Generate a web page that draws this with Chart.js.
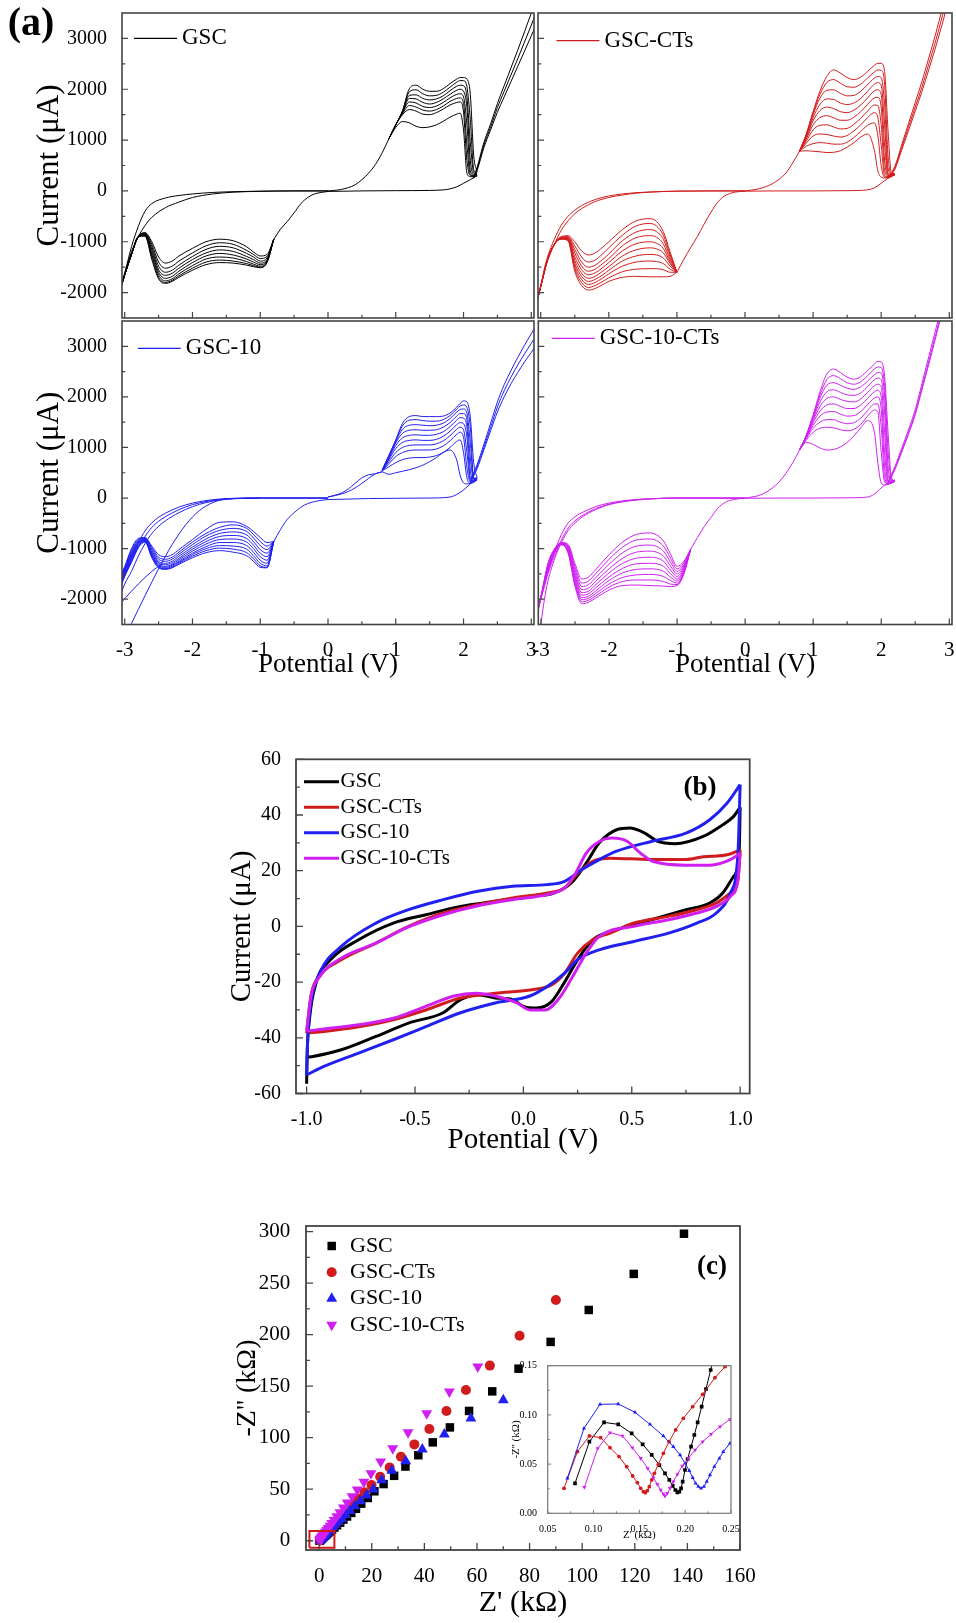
<!DOCTYPE html>
<html>
<head>
<meta charset="utf-8">
<script src="https://cdn.jsdelivr.net/npm/chart.js@4.4.1/dist/chart.umd.min.js"></script>
<style>
  body { margin: 0; background: #fff; }
  #page { position: relative; width: 956px; height: 1623px; overflow: hidden; font-family: 'Liberation Serif', 'Times New Roman', serif; }
  #page canvas { position: absolute; }
  .tag { position: absolute; font-weight: bold; transform: translate(-50%, -50%); line-height: 1; }
</style>
</head>
<body>
<div id="page">
  <canvas id="cvTL" width="536" height="320" style="left:0;top:0"></canvas>
  <canvas id="cvTR" width="420" height="320" style="left:536px;top:0"></canvas>
  <canvas id="cvBL" width="545" height="380" style="left:0;top:320px"></canvas>
  <canvas id="cvBR" width="426" height="380" style="left:530px;top:320px"></canvas>
  <canvas id="cvB" width="600" height="430" style="left:190px;top:740px"></canvas>
  <canvas id="nyq" width="580" height="433" style="left:200px;top:1190px"></canvas>
  <canvas id="nyqInset" width="250" height="200" style="left:495px;top:1350px"></canvas>
  <div class="tag" style="left:31px;top:22px;font-size:40px">(a)</div>
  <div class="tag" style="left:700px;top:786px;font-size:27px">(b)</div>
  <div class="tag" style="left:712px;top:1265px;font-size:27px">(c)</div>
</div>
<script>
Chart.defaults.font.family = "'Liberation Serif', 'Times New Roman', serif";
Chart.defaults.color = '#000';

// ---------- (a) axes ----------
const aTickX = [-3, -2, -1, 0, 1, 2, 3];
const aMinorX = [-2.5, -1.5, -0.5, 0.5, 1.5, 2.5];
const aTickY = [-2000, -1000, 0, 1000, 2000, 3000];
const aMinorY = [-1500, -500, 500, 1500, 2500];

// ---------- (a) GSC ----------
const gscRiseX = [0, 0.2, 0.4, 0.5, 0.6, 0.7, 0.8, 0.9];
const gscRiseY = [0, 30, 120, 220, 350, 520, 750, 1030];
const gscAnodicX = [0.9, 1.0, 1.1, 1.2, 1.3, 1.4, 1.5, 1.6, 1.7, 1.8, 1.9, 1.95, 2.0, 2.05, 2.1, 2.15, 2.2];
const gscAnodic = [
  [1030, 1250, 1365, 1340, 1270, 1245, 1260, 1300, 1370, 1450, 1510, 1530, 1200, 350, 280, 280, 300],
  [1030, 1300, 1500, 1600, 1570, 1510, 1500, 1540, 1610, 1690, 1740, 1750, 1550, 600, 300, 290, 300],
  [1030, 1300, 1520, 1680, 1650, 1590, 1570, 1600, 1670, 1760, 1820, 1830, 1720, 900, 320, 300, 310],
  [1030, 1300, 1540, 1750, 1730, 1660, 1640, 1670, 1740, 1830, 1900, 1910, 1850, 1300, 400, 310, 320],
  [1030, 1300, 1550, 1820, 1810, 1740, 1710, 1740, 1810, 1900, 1980, 2000, 1960, 1650, 600, 330, 330],
  [1030, 1300, 1560, 1880, 1890, 1820, 1790, 1810, 1870, 1970, 2060, 2080, 2070, 1850, 950, 360, 340],
  [1030, 1300, 1570, 1950, 1990, 1910, 1870, 1880, 1940, 2040, 2140, 2170, 2170, 2050, 1400, 420, 350],
  [1030, 1300, 1580, 2010, 2080, 2000, 1960, 1960, 2010, 2110, 2200, 2230, 2230, 2200, 1900, 700, 370]
];
const gscFlatX = [0, 0.5, 1.0, 1.5, 1.7, 1.8, 1.9, 2.0, 2.1, 2.2];
const gscFlatY = [-10, 0, 5, 10, 20, 40, 80, 150, 220, 300];
const gscSteepX = [2.15, 2.2, 2.3, 2.4, 2.5, 2.6, 2.7, 2.8, 2.9, 3.0, 3.1];
const gscSteep = [
  [250, 400, 850, 1200, 1550, 1850, 2150, 2450, 2750, 3050, 3350],
  [260, 430, 900, 1260, 1640, 1960, 2280, 2600, 2930, 3260, 3600],
  [270, 460, 950, 1320, 1720, 2070, 2420, 2770, 3130, 3500, 3850]
];
const gscLeftX = [-3.1, -3, -2.9, -2.8, -2.7, -2.6, -2.4, -2.2, -2.0, -1.7, -1.4, -1.0, -0.5, 0];
const gscLeft = [
  [-2100, -1620, -1100, -700, -400, -250, -140, -90, -60, -30, -15, -5, 0, 0],
  [-2100, -1620, -1200, -900, -680, -520, -330, -220, -130, -60, -25, -8, 0, 0]
];
const gscCathodicX = [-3.1, -3, -2.9, -2.8, -2.7, -2.6, -2.5, -2.4, -2.3, -2.2, -2.0, -1.8, -1.6, -1.4, -1.2, -1.1, -1.0, -0.9, -0.8];
const gscCathodic = [
  [-2100, -1650, -1250, -900, -820, -1000, -1300, -1420, -1380, -1280, -1130, -1000, -950, -980, -1100, -1200, -1280, -1250, -950],
  [-2100, -1650, -1250, -900, -830, -1050, -1400, -1520, -1480, -1380, -1220, -1080, -1020, -1050, -1170, -1250, -1330, -1290, -950],
  [-2100, -1650, -1250, -900, -840, -1100, -1480, -1600, -1560, -1460, -1290, -1150, -1090, -1120, -1230, -1300, -1380, -1320, -950],
  [-2100, -1650, -1250, -900, -850, -1150, -1550, -1660, -1620, -1520, -1350, -1220, -1160, -1190, -1290, -1350, -1420, -1350, -950],
  [-2100, -1650, -1250, -900, -860, -1200, -1600, -1720, -1680, -1580, -1410, -1280, -1230, -1260, -1340, -1400, -1450, -1370, -950],
  [-2100, -1650, -1250, -900, -870, -1250, -1650, -1770, -1730, -1630, -1470, -1340, -1300, -1320, -1390, -1440, -1480, -1390, -950],
  [-2100, -1650, -1250, -900, -880, -1300, -1700, -1800, -1760, -1670, -1520, -1400, -1360, -1380, -1430, -1470, -1500, -1400, -950],
  [-2100, -1650, -1250, -900, -890, -1350, -1730, -1820, -1780, -1700, -1560, -1450, -1410, -1420, -1460, -1490, -1510, -1410, -950]
];
const gscTailX = [-0.8, -0.7, -0.6, -0.5, -0.4, -0.3, -0.2, -0.1, 0];
const gscTailY = [-950, -750, -600, -430, -250, -130, -60, -30, -10];

// ---------- (a) GSC-CTs ----------
const ctRiseX = [0, 0.2, 0.3, 0.4, 0.5, 0.6, 0.7, 0.8];
const ctRiseY = [0, 40, 80, 140, 230, 350, 550, 780];
const ctAnodicX = [0.8, 0.9, 1.0, 1.1, 1.2, 1.3, 1.4, 1.5, 1.6, 1.7, 1.8, 1.9, 1.95, 2.0, 2.05, 2.1, 2.15, 2.2];
const ctAnodic = [
  [780, 790, 780, 770, 755, 760, 790, 860, 950, 1060, 1120, 800, 400, 270, 255, 260, 280, 320],
  [780, 880, 930, 950, 940, 920, 920, 960, 1050, 1170, 1290, 1340, 1100, 500, 270, 270, 290, 320],
  [780, 940, 1080, 1120, 1110, 1080, 1060, 1090, 1180, 1300, 1440, 1540, 1450, 900, 300, 280, 300, 320],
  [780, 980, 1200, 1290, 1300, 1260, 1220, 1230, 1310, 1430, 1570, 1690, 1680, 1300, 400, 290, 300, 320],
  [780, 1020, 1300, 1440, 1480, 1440, 1390, 1390, 1450, 1560, 1700, 1830, 1840, 1650, 600, 300, 310, 320],
  [780, 1050, 1380, 1580, 1650, 1620, 1560, 1540, 1590, 1690, 1830, 1970, 1990, 1900, 900, 320, 310, 320],
  [780, 1080, 1440, 1700, 1810, 1800, 1730, 1700, 1730, 1820, 1960, 2100, 2130, 2080, 1300, 350, 320, 325],
  [780, 1100, 1500, 1820, 1980, 1990, 1920, 1870, 1880, 1960, 2090, 2220, 2250, 2230, 1700, 450, 330, 330],
  [780, 1110, 1530, 1900, 2130, 2190, 2120, 2050, 2040, 2100, 2220, 2340, 2380, 2370, 2100, 700, 340, 335],
  [780, 1120, 1560, 1960, 2250, 2380, 2320, 2230, 2190, 2240, 2350, 2470, 2510, 2510, 2350, 1200, 350, 340]
];
const ctFlatX = [0, 0.5, 1.0, 1.5, 1.8, 1.9, 2.0, 2.1, 2.2];
const ctFlatY = [-5, 0, 0, 5, 20, 60, 150, 250, 330];
const ctSteepX = [2.1, 2.2, 2.3, 2.4, 2.5, 2.6, 2.7, 2.8, 2.9, 3.0];
const ctSteep = [
  [250, 450, 850, 1250, 1650, 2050, 2500, 2950, 3450, 3950],
  [260, 480, 900, 1320, 1740, 2160, 2620, 3090, 3600, 4100],
  [240, 420, 800, 1180, 1570, 1960, 2390, 2830, 3300, 3800]
];
const ctLeftX = [-3.1, -3, -2.95, -2.9, -2.8, -2.7, -2.6, -2.5, -2.4, -2.2, -2.0, -1.8, -1.6, -1.4, -1.2, -1.0, -0.5, 0];
const ctLeft = [
  [-2400, -1880, -1550, -1300, -950, -680, -500, -380, -290, -170, -100, -60, -35, -20, -10, -5, 0, 0],
  [-2400, -1880, -1600, -1380, -1050, -780, -590, -450, -350, -210, -130, -80, -45, -25, -12, -5, 0, 0]
];
const ctCathodicX = [-3.1, -3, -2.9, -2.8, -2.7, -2.6, -2.5, -2.4, -2.3, -2.2, -2.1, -2.0, -1.8, -1.6, -1.4, -1.3, -1.2, -1.1, -1.0];
const ctCathodic = [
  [-2400, -1880, -1350, -1050, -900, -880, -1000, -1180, -1260, -1220, -1120, -1000, -760, -590, -545, -600, -800, -1200, -1600],
  [-2400, -1880, -1350, -1050, -910, -900, -1080, -1300, -1400, -1360, -1250, -1120, -870, -690, -640, -690, -870, -1250, -1600],
  [-2400, -1880, -1350, -1050, -915, -910, -1150, -1400, -1500, -1460, -1360, -1240, -980, -810, -760, -800, -950, -1300, -1600],
  [-2400, -1880, -1350, -1050, -920, -920, -1220, -1480, -1580, -1540, -1440, -1330, -1080, -920, -880, -910, -1040, -1350, -1600],
  [-2400, -1880, -1350, -1050, -925, -930, -1300, -1550, -1650, -1610, -1520, -1410, -1180, -1040, -1000, -1030, -1130, -1400, -1600],
  [-2400, -1880, -1350, -1050, -930, -940, -1370, -1620, -1720, -1680, -1590, -1490, -1280, -1160, -1120, -1140, -1220, -1430, -1600],
  [-2400, -1880, -1350, -1050, -935, -950, -1430, -1680, -1780, -1740, -1660, -1560, -1380, -1280, -1250, -1260, -1320, -1480, -1600],
  [-2400, -1880, -1350, -1050, -940, -960, -1480, -1740, -1840, -1800, -1720, -1630, -1480, -1400, -1380, -1390, -1430, -1540, -1600],
  [-2400, -1880, -1350, -1050, -945, -970, -1530, -1800, -1900, -1860, -1790, -1710, -1590, -1540, -1530, -1530, -1550, -1600, -1600],
  [-2400, -1880, -1350, -1050, -950, -980, -1580, -1860, -1950, -1920, -1850, -1780, -1700, -1680, -1690, -1690, -1690, -1680, -1600]
];
const ctTailX = [-1.0, -0.9, -0.8, -0.7, -0.6, -0.5, -0.4, -0.3, -0.2, -0.1, 0];
const ctTailY = [-1600, -1350, -1120, -900, -650, -420, -220, -100, -40, -15, -5];

// ---------- (a) GSC-10 ----------
const g10RiseX = [0, 0.2, 0.3, 0.4, 0.5, 0.6, 0.7, 0.8];
const g10Rise = [
  [20, 80, 130, 200, 290, 390, 480, 520],
  [20, 100, 180, 290, 400, 460, 480, 520]
];
const g10AnodicX = [0.8, 0.9, 1.0, 1.1, 1.2, 1.3, 1.4, 1.5, 1.6, 1.7, 1.8, 1.9, 1.95, 2.0, 2.05, 2.1, 2.15, 2.2];
const g10Anodic = [
  [520, 470, 500, 530, 560, 600, 650, 720, 800, 900, 950, 750, 450, 300, 280, 290, 310, 360],
  [540, 620, 700, 760, 790, 800, 800, 810, 840, 900, 1000, 1120, 1150, 900, 400, 300, 320, 360],
  [540, 680, 820, 900, 940, 950, 950, 950, 970, 1030, 1130, 1260, 1300, 1200, 600, 320, 330, 370],
  [540, 720, 900, 1000, 1040, 1050, 1050, 1050, 1070, 1130, 1230, 1360, 1400, 1350, 900, 350, 340, 370],
  [540, 760, 980, 1100, 1140, 1150, 1140, 1140, 1160, 1220, 1320, 1450, 1490, 1470, 1200, 400, 350, 380],
  [540, 790, 1040, 1190, 1240, 1250, 1240, 1240, 1260, 1310, 1410, 1540, 1590, 1580, 1400, 550, 360, 380],
  [550, 810, 1090, 1280, 1340, 1350, 1340, 1340, 1350, 1400, 1490, 1620, 1670, 1670, 1550, 800, 370, 385],
  [550, 830, 1120, 1360, 1440, 1450, 1440, 1430, 1440, 1480, 1570, 1700, 1750, 1760, 1680, 1100, 380, 390],
  [550, 840, 1140, 1430, 1540, 1550, 1530, 1520, 1520, 1550, 1630, 1760, 1820, 1840, 1790, 1400, 400, 395],
  [560, 850, 1150, 1480, 1610, 1630, 1610, 1610, 1610, 1620, 1680, 1800, 1870, 1920, 1900, 1600, 700, 400]
];
const g10FlatX = [0, 0.3, 0.6, 1.0, 1.5, 1.8, 1.9, 2.0, 2.1, 2.2];
const g10FlatY = [-30, -20, -10, -5, 0, 20, 70, 160, 280, 400];
const g10SteepX = [2.1, 2.2, 2.3, 2.4, 2.5, 2.6, 2.7, 2.8, 2.9, 3.0, 3.1];
const g10Steep = [
  [300, 580, 950, 1330, 1700, 2000, 2260, 2480, 2690, 2880, 3070],
  [320, 620, 1000, 1400, 1800, 2120, 2390, 2630, 2850, 3060, 3270],
  [340, 660, 1060, 1480, 1900, 2240, 2520, 2780, 3020, 3250, 3480]
];
const g10LeftX = [-3.1, -3, -2.9, -2.8, -2.7, -2.6, -2.5, -2.4, -2.2, -2.0, -1.8, -1.6, -1.4, -1.0, 0];
const g10Left = [
  [-1800, -1450, -1150, -880, -650, -490, -380, -300, -180, -100, -50, -20, -5, 0, 0],
  [-1900, -1550, -1250, -980, -760, -580, -460, -370, -230, -130, -70, -30, -10, 0, 0],
  [-2050, -1700, -1450, -1150, -900, -700, -560, -450, -290, -170, -90, -40, -15, 0, 0]
];
const g10FanX = [-3.1, -3, -2.9, -2.7, -2.5, -2.3, -2.1, -1.9, -1.7, -1.5, -1.0];
const g10FanY = [-3000, -2750, -2480, -1930, -1400, -920, -530, -250, -90, -20, 0];
const g10SlopeX = [-3.1, -3, -2.8, -2.6, -2.45];
const g10SlopeY = [-2150, -1990, -1700, -1450, -1300];
const g10CathodicX = [-3.1, -3, -2.9, -2.8, -2.7, -2.6, -2.5, -2.4, -2.3, -2.2, -2.0, -1.8, -1.6, -1.4, -1.2, -1.1, -1.0, -0.9, -0.8];
const g10Cathodic = [
  [-1650, -1350, -1000, -800, -780, -950, -1120, -1160, -1120, -1020, -820, -620, -480, -470, -560, -660, -780, -880, -860],
  [-1680, -1380, -1030, -820, -790, -980, -1170, -1210, -1170, -1070, -870, -700, -580, -530, -600, -720, -860, -950, -860],
  [-1700, -1400, -1060, -840, -800, -1010, -1210, -1250, -1210, -1110, -920, -750, -640, -600, -660, -790, -940, -1020, -860],
  [-1720, -1420, -1090, -860, -810, -1040, -1250, -1290, -1250, -1150, -970, -810, -700, -670, -730, -860, -1020, -1090, -860],
  [-1740, -1440, -1120, -880, -820, -1070, -1280, -1320, -1280, -1190, -1010, -860, -760, -740, -800, -930, -1090, -1160, -860],
  [-1760, -1460, -1150, -900, -830, -1100, -1310, -1350, -1310, -1220, -1050, -910, -820, -810, -870, -1000, -1160, -1230, -860],
  [-1780, -1480, -1180, -920, -840, -1120, -1330, -1370, -1330, -1250, -1090, -960, -880, -880, -940, -1070, -1230, -1290, -860],
  [-1800, -1500, -1210, -940, -850, -1140, -1350, -1390, -1350, -1270, -1120, -1000, -940, -950, -1010, -1140, -1290, -1340, -860],
  [-1820, -1520, -1240, -960, -860, -1160, -1370, -1400, -1370, -1290, -1150, -1040, -990, -1010, -1080, -1200, -1340, -1370, -860],
  [-1840, -1540, -1270, -980, -870, -1180, -1380, -1410, -1380, -1310, -1180, -1080, -1040, -1070, -1140, -1250, -1370, -1380, -860]
];
const g10TailX = [-0.8, -0.7, -0.6, -0.5, -0.4, -0.3, -0.2, -0.1, 0];
const g10TailY = [-860, -620, -420, -290, -180, -110, -70, -45, -30];

// ---------- (a) GSC-10-CTs ----------
const mRiseX = [0, 0.2, 0.3, 0.4, 0.5, 0.6, 0.7, 0.8];
const mRiseY = [0, 50, 110, 200, 320, 490, 700, 950];
const mAnodicX = [0.8, 0.9, 1.0, 1.1, 1.2, 1.3, 1.4, 1.5, 1.6, 1.7, 1.8, 1.9, 1.95, 2.0, 2.05, 2.1, 2.15, 2.2];
const mAnodic = [
  [950, 1100, 1060, 990, 950, 960, 1010, 1100, 1230, 1390, 1530, 1300, 700, 300, 260, 270, 290, 330],
  [950, 1150, 1300, 1380, 1400, 1390, 1350, 1330, 1360, 1460, 1620, 1740, 1700, 900, 320, 280, 300, 330],
  [950, 1180, 1380, 1500, 1550, 1550, 1500, 1470, 1490, 1580, 1730, 1860, 1860, 1400, 400, 290, 300, 330],
  [950, 1200, 1440, 1620, 1700, 1710, 1660, 1620, 1630, 1710, 1850, 1980, 2000, 1750, 600, 300, 310, 330],
  [950, 1210, 1490, 1720, 1840, 1860, 1810, 1770, 1770, 1840, 1970, 2100, 2130, 2000, 900, 320, 320, 335],
  [950, 1220, 1530, 1810, 1970, 2000, 1950, 1910, 1900, 1960, 2090, 2220, 2250, 2200, 1300, 350, 330, 335],
  [950, 1230, 1570, 1900, 2100, 2140, 2090, 2040, 2030, 2080, 2200, 2340, 2370, 2340, 1700, 450, 340, 340],
  [950, 1240, 1600, 1980, 2230, 2280, 2230, 2170, 2150, 2200, 2310, 2440, 2480, 2470, 2000, 650, 350, 340],
  [950, 1245, 1630, 2040, 2340, 2420, 2360, 2280, 2250, 2300, 2420, 2550, 2590, 2580, 2200, 950, 370, 340],
  [950, 1250, 1650, 2100, 2450, 2550, 2480, 2390, 2350, 2400, 2520, 2650, 2700, 2690, 2400, 1300, 400, 340]
];
const mFlatX = [0, 0.5, 1.0, 1.5, 1.8, 1.9, 2.0, 2.1, 2.2];
const mFlatY = [-5, 0, 0, 5, 20, 80, 200, 300, 360];
const mSteepX = [2.1, 2.2, 2.3, 2.4, 2.5, 2.6, 2.7, 2.8, 2.9, 3.0];
const mSteep = [
  [280, 560, 900, 1260, 1650, 2150, 2650, 3170, 3700, 4200],
  [300, 580, 930, 1290, 1680, 2190, 2710, 3230, 3750, 4260],
  [320, 620, 980, 1350, 1750, 2270, 2800, 3330, 3860, 4380]
];
const mLeftX = [-3.1, -3, -2.95, -2.9, -2.8, -2.7, -2.6, -2.5, -2.4, -2.2, -2.0, -1.8, -1.6, -1.4, -1.0, 0];
const mLeft = [
  [-2500, -1950, -1650, -1400, -1050, -720, -490, -370, -290, -170, -100, -55, -30, -15, 0, 0],
  [-2550, -1990, -1750, -1500, -1150, -830, -590, -450, -350, -210, -120, -70, -35, -15, 0, 0],
  [-3000, -2450, -2000, -1650, -1200, -880, -640, -490, -380, -230, -130, -75, -40, -18, 0, 0]
];
const mCathodicX = [-3.1, -3, -2.9, -2.8, -2.7, -2.6, -2.5, -2.4, -2.3, -2.2, -2.0, -1.8, -1.6, -1.4, -1.2, -1.1, -1.0, -0.9, -0.8];
const mCathodic = [
  [-2500, -1950, -1300, -1000, -880, -920, -1300, -1600, -1560, -1420, -1120, -870, -720, -690, -850, -1100, -1350, -1250, -1010],
  [-2500, -1950, -1320, -1010, -885, -940, -1360, -1680, -1640, -1500, -1210, -970, -830, -810, -950, -1180, -1400, -1280, -1010],
  [-2500, -1950, -1340, -1020, -890, -960, -1420, -1750, -1710, -1580, -1310, -1080, -950, -930, -1050, -1260, -1450, -1310, -1010],
  [-2500, -1950, -1360, -1030, -895, -980, -1480, -1810, -1780, -1650, -1400, -1190, -1070, -1050, -1150, -1340, -1500, -1340, -1010],
  [-2500, -1950, -1380, -1040, -900, -1000, -1530, -1870, -1840, -1720, -1480, -1290, -1190, -1170, -1250, -1420, -1550, -1370, -1010],
  [-2500, -1950, -1400, -1050, -905, -1020, -1580, -1920, -1890, -1780, -1560, -1390, -1300, -1290, -1350, -1490, -1600, -1400, -1010],
  [-2500, -1950, -1420, -1060, -910, -1040, -1630, -1970, -1940, -1840, -1630, -1480, -1410, -1400, -1450, -1560, -1640, -1430, -1010],
  [-2500, -1950, -1440, -1070, -915, -1060, -1670, -2010, -1980, -1890, -1700, -1570, -1520, -1510, -1550, -1630, -1680, -1460, -1010],
  [-2500, -1950, -1460, -1080, -920, -1080, -1710, -2050, -2020, -1940, -1760, -1650, -1620, -1620, -1650, -1700, -1710, -1480, -1010],
  [-2500, -1950, -1480, -1090, -925, -1100, -1750, -2090, -2060, -1980, -1820, -1730, -1720, -1730, -1740, -1750, -1730, -1500, -1010]
];
const mTailX = [-0.8, -0.7, -0.6, -0.5, -0.4, -0.3, -0.2, -0.1, 0];
const mTailY = [-1010, -780, -560, -380, -200, -90, -40, -15, -5];

// ---------- (b) ----------
const bTickX = [-1, -0.5, 0, 0.5, 1];
const bMinorX = [-0.75, -0.25, 0.25, 0.75];
const bTickY = [-60, -40, -20, 0, 20, 40, 60];
const bMinorY = [-50, -30, -10, 10, 30, 50];
const bGscUpX = [-1.0, -0.998, -0.987, -0.955, -0.89, -0.76, -0.6, -0.45, -0.29, -0.13, 0.03, 0.14, 0.22, 0.29, 0.35, 0.43, 0.49, 0.56, 0.62, 0.70, 0.83, 0.91, 0.97, 1.0];
const bGscUpY = [-56.5, -47, -33.5, -20, -12, -4.8, 1.2, 4.2, 7.2, 9, 10.8, 12, 15.5, 22.7, 30, 34.7, 35.3, 33.5, 30.5, 29.7, 32.3, 36, 39.5, 42.8];
const bGscDnX = [-1.0, -0.97, -0.84, -0.68, -0.53, -0.37, -0.29, -0.21, -0.13, -0.05, 0, 0.06, 0.13, 0.19, 0.25, 0.32, 0.43, 0.59, 0.75, 0.86, 0.92, 0.97, 0.995, 1.0];
const bGscDnY = [-47, -46.7, -44.3, -39.5, -34.7, -31, -26.3, -24.5, -25.7, -26.3, -28.7, -29.3, -27, -20, -12, -4.8, -1.2, 2.4, 6, 8.4, 12, 18, 26, 42.8];
const bCtUpX = [-1.0, -0.98, -0.94, -0.84, -0.68, -0.53, -0.37, -0.21, -0.05, 0.11, 0.19, 0.25, 0.32, 0.40, 0.59, 0.75, 0.83, 0.94, 1.0];
const bCtUpY = [-38.3, -25, -18, -12, -6, 0, 4.8, 7.8, 10.2, 12, 13.8, 19, 23.4, 24.5, 24, 24, 25, 25.7, 27.5];
const bCtDnX = [-1.0, -0.92, -0.76, -0.6, -0.45, -0.29, -0.13, 0.03, 0.13, 0.19, 0.25, 0.32, 0.4, 0.51, 0.67, 0.8, 0.89, 0.955, 0.99, 1.0];
const bCtDnY = [-38.3, -37.7, -36, -33.5, -30, -25.7, -24, -22.8, -21, -16.8, -9.6, -4.8, -2.4, 1.2, 3.6, 6, 8.4, 12, 16.8, 27.5];
const bG10UpX = [-1.0, -0.995, -0.98, -0.94, -0.84, -0.68, -0.53, -0.37, -0.21, -0.05, 0.11, 0.19, 0.27, 0.35, 0.43, 0.59, 0.75, 0.86, 0.94, 1.0];
const bG10UpY = [-53.3, -40.7, -27.5, -16.8, -7.2, 1.2, 6, 9.6, 12.6, 14.4, 15, 16.2, 20.4, 24, 27, 30.5, 33.5, 38.3, 44.3, 50.9];
const bG10DnX = [-1.0, -0.92, -0.76, -0.6, -0.45, -0.29, -0.13, 0.03, 0.11, 0.19, 0.25, 0.35, 0.51, 0.67, 0.8, 0.89, 0.955, 0.99, 1.0];
const bG10DnY = [-53.3, -50.3, -45.5, -40.7, -36, -31, -27.5, -25, -21.6, -16.8, -12, -8.4, -5.4, -2.4, 1.2, 4.8, 12, 26.3, 50.9];
const bG10CtUpX = [-1.0, -0.98, -0.94, -0.84, -0.68, -0.53, -0.37, -0.21, -0.05, 0.11, 0.19, 0.24, 0.29, 0.35, 0.41, 0.48, 0.54, 0.6, 0.75, 0.86, 0.955, 1.0];
const bG10CtUpY = [-37.6, -25, -18, -11.4, -6, -0.2, 4.2, 7.4, 9.6, 11.4, 13.8, 19, 26.3, 30.5, 31.7, 30.5, 26.3, 23.3, 22, 22, 24, 26.3];
const bG10CtDnX = [-1.0, -0.92, -0.76, -0.6, -0.45, -0.32, -0.22, -0.13, -0.03, 0.03, 0.1, 0.16, 0.22, 0.29, 0.35, 0.51, 0.67, 0.8, 0.89, 0.955, 0.99, 1.0];
const bG10CtDnY = [-37.6, -36.8, -35.3, -33, -28.7, -25, -24, -25, -27.5, -30, -30, -26.3, -19, -9.6, -3.6, 0, 2.4, 4.8, 7.2, 10.8, 16.8, 26.3];

// ---------- (c) ----------
const cTickX = [0, 20, 40, 60, 80, 100, 120, 140, 160];
const cMinorX = [10, 30, 50, 70, 90, 110, 130, 150];
const cTickY = [0, 50, 100, 150, 200, 250, 300];
const cMinorY = [25, 75, 125, 175, 225, 275];
const cGscX = [138.7, 119.6, 102.5, 88, 75.8, 65.8, 57, 49.7, 43.2, 37.7, 32.8, 28.5, 24.5, 21, 18.5, 16, 14, 12.2, 10.6, 9.2, 8, 6.8, 5.8, 4.9, 4.1, 3.4, 2.8, 2.3, 1.8, 1.4, 1.1, 0.8, 0.6, 0.4, 0.3, 0.2, 0.15];
const cGscY = [298, 259, 224, 193, 167, 145, 126, 110, 95.5, 83, 72, 63, 55, 48, 41.5, 36, 31, 27, 23.5, 20.5, 17.5, 15, 12.8, 10.8, 9, 7.5, 6.1, 5, 4, 3.1, 2.3, 1.7, 1.2, 0.8, 0.5, 0.3, 0.1];
const cCtX = [90, 76.2, 64.9, 55.8, 48.4, 41.9, 36.2, 31.1, 26.8, 23.2, 19.9, 17.3, 15, 13, 11.2, 9.6, 8.2, 7, 6, 5.1, 4.3, 3.6, 3, 2.5, 2, 1.6, 1.3, 1, 0.8, 0.6, 0.4, 0.3, 0.2];
const cCtY = [233.7, 199, 170, 146.3, 125.9, 108.4, 93.5, 81.6, 71.2, 62.1, 54, 47, 41, 35.5, 30.5, 26.2, 22.4, 19, 16.2, 13.8, 11.7, 9.9, 8.3, 6.9, 5.6, 4.5, 3.6, 2.8, 2.1, 1.5, 1, 0.6, 0.3];
const cG10X = [70, 57.7, 47.6, 39.2, 32.9, 27.6, 23.8, 20.6, 18, 15.6, 13.5, 11.6, 10, 8.6, 7.3, 6.2, 5.2, 4.4, 3.7, 3.1, 2.5, 2.1, 1.7, 1.3, 1, 0.8, 0.6, 0.4, 0.3];
const cG10Y = [136.6, 118.8, 103.2, 88.7, 77.3, 68, 58.9, 49.8, 44, 38.5, 33.5, 29, 25, 21.5, 18.5, 15.8, 13.4, 11.3, 9.5, 7.9, 6.5, 5.3, 4.3, 3.4, 2.6, 1.9, 1.3, 0.8, 0.4];
const cG10CtX = [60.3, 49.5, 40.9, 33.8, 28, 23.4, 19.7, 17, 14.5, 12.5, 10.7, 9.2, 7.9, 6.7, 5.7, 4.8, 4.1, 3.4, 2.9, 2.4, 2, 1.6, 1.3, 1, 0.8, 0.6, 0.4, 0.3, 0.2];
const cG10CtY = [169, 144.7, 123.6, 105.2, 89.6, 76.7, 65.4, 57, 49.5, 43, 37, 32, 27.5, 23.5, 20, 17, 14.4, 12.2, 10.2, 8.5, 7, 5.7, 4.6, 3.6, 2.7, 2, 1.3, 0.8, 0.4];
const zoomBoxX = [-3.7, 5.8, 5.8, -3.7, -3.7];
const zoomBoxY = [-6.8, -6.8, 9.4, 9.4, -6.8];

// inset
const iTickX = [0.05, 0.10, 0.15, 0.20, 0.25];
const iMinorX = [0.075, 0.125, 0.175, 0.225];
const iTickY = [0, 0.05, 0.10, 0.15];
const iMinorY = [0.025, 0.075, 0.125];
const insGscX = [0.0798, 0.0955, 0.1115, 0.127, 0.1416, 0.1536, 0.1635, 0.1718, 0.178, 0.1827, 0.1864, 0.1893, 0.1915, 0.1936, 0.1955, 0.1973, 0.1998, 0.2027, 0.2064, 0.21, 0.2136, 0.218, 0.2227, 0.2278, 0.233];
const insGscY = [0.0305, 0.0728, 0.0924, 0.0904, 0.0813, 0.0701, 0.0593, 0.049, 0.0406, 0.0339, 0.0278, 0.0237, 0.0213, 0.022, 0.0254, 0.0322, 0.044, 0.0552, 0.0677, 0.0796, 0.0924, 0.1084, 0.1263, 0.1456, 0.165];
const insCtX = [0.0678, 0.0824, 0.0955, 0.1078, 0.118, 0.1278, 0.1362, 0.1427, 0.1478, 0.1515, 0.1544, 0.1565, 0.1587, 0.1609, 0.1635, 0.1664, 0.1707, 0.1762, 0.1824, 0.1896, 0.198, 0.2082, 0.2191, 0.2325, 0.2435, 0.255];
const insCtY = [0.0254, 0.0626, 0.0786, 0.0769, 0.0667, 0.0576, 0.0474, 0.0379, 0.0312, 0.0254, 0.022, 0.021, 0.023, 0.0271, 0.0339, 0.0406, 0.0498, 0.061, 0.0728, 0.0847, 0.0965, 0.1084, 0.1209, 0.1378, 0.149, 0.162];
const insG10X = [0.0715, 0.0896, 0.1071, 0.127, 0.1453, 0.1616, 0.1762, 0.1871, 0.1944, 0.1998, 0.2045, 0.2082, 0.2115, 0.2144, 0.2173, 0.2205, 0.2235, 0.2271, 0.2318, 0.2373, 0.2416, 0.2489, 0.255];
const insG10Y = [0.0356, 0.0864, 0.1107, 0.1111, 0.1026, 0.0904, 0.0786, 0.0677, 0.0593, 0.0508, 0.0433, 0.0362, 0.0305, 0.0271, 0.0254, 0.0271, 0.0322, 0.0389, 0.0474, 0.0559, 0.0626, 0.0711, 0.078];
const insG10CtX = [0.09, 0.1045, 0.118, 0.1315, 0.1424, 0.1515, 0.1591, 0.1653, 0.1696, 0.1733, 0.1762, 0.178, 0.1805, 0.1835, 0.1871, 0.1915, 0.1969, 0.2035, 0.2107, 0.2191, 0.2282, 0.238, 0.2489, 0.255];
const insG10CtY = [0.0264, 0.066, 0.082, 0.0786, 0.0667, 0.0559, 0.0457, 0.0362, 0.0295, 0.0237, 0.0196, 0.0176, 0.0203, 0.0254, 0.0322, 0.0396, 0.0481, 0.0559, 0.0643, 0.0728, 0.0803, 0.088, 0.0955, 0.0985];

const BLACK = '#000000', RED = '#d01c1c', BLUE = '#2020f0', MAGENTA = '#cf20f0';

// ---------- helpers ----------
const pairs = (xs, ys) => xs.map((x, i) => ({ x, y: ys[i] }));

function axis(o) {
  const a = {
    type: 'linear', min: o.min, max: o.max, display: !!o.show,
    grid: { display: false }, border: { display: false },
    ticks: { font: { size: o.font || 21 }, padding: o.pad || 6, autoSkip: false, maxRotation: 0, color: '#000', callback: o.fmt || (v => String(v)) },
    afterBuildTicks: s => { s.ticks = o.ticks.map(v => ({ value: v })); },
    title: o.title ? { display: true, text: o.title, color: '#000', font: { size: o.titleSize, lineHeight: 1 }, padding: o.titlePad } : { display: false }
  };
  if (o.show) {
    a.afterFit = s => {
      if (o.vertical) s.width = o.size; else s.height = o.size;
      s.paddingLeft = 0; s.paddingRight = 0; s.paddingTop = 0; s.paddingBottom = 0;
    };
  }
  return a;
}

function frame(t) {
  return {
    id: 'frame',
    beforeDatasetsDraw(chart) {
      if (!t.fill) return;
      const { ctx, chartArea: a } = chart;
      ctx.save();
      ctx.fillStyle = '#fff';
      ctx.fillRect(a.left, a.top, a.right - a.left, a.bottom - a.top);
      ctx.restore();
    },
    afterDatasetsDraw(chart) {
      const { ctx, chartArea: a, scales } = chart;
      ctx.save();
      ctx.strokeStyle = t.color;
      ctx.lineWidth = t.tickWidth;
      ctx.beginPath();
      const xt = (vals, len) => vals.forEach(v => {
        const p = scales.x.getPixelForValue(v);
        ctx.moveTo(p, a.bottom); ctx.lineTo(p, a.bottom - len);
      });
      const yt = (vals, len) => vals.forEach(v => {
        const p = scales.y.getPixelForValue(v);
        ctx.moveTo(a.left, p); ctx.lineTo(a.left + len, p);
      });
      xt(t.xMajor, t.len); xt(t.xMinor, t.len * 0.55);
      yt(t.yMajor, t.len); yt(t.yMinor, t.len * 0.55);
      ctx.stroke();
      ctx.lineWidth = t.width;
      ctx.strokeRect(a.left, a.top, a.right - a.left, a.bottom - a.top);
      ctx.restore();
    }
  };
}

function drawMark(ctx, kind, x, y, r) {
  ctx.beginPath();
  if (kind === 'rect') {
    const s = r * Math.SQRT1_2;
    ctx.rect(x - s, y - s, 2 * s, 2 * s);
  } else if (kind === 'circle') {
    ctx.arc(x, y, r, 0, Math.PI * 2);
  } else {
    const d = kind === 'down' ? -1 : 1;
    ctx.moveTo(x, y - d * r);
    ctx.lineTo(x + r * 0.866, y + d * r * 0.5);
    ctx.lineTo(x - r * 0.866, y + d * r * 0.5);
    ctx.closePath();
  }
  ctx.fill();
}

function legend(l) {
  return {
    id: 'panelLegend',
    afterDatasetsDraw(chart) {
      const { ctx, chartArea: a } = chart;
      ctx.save();
      ctx.font = l.font;
      ctx.textBaseline = 'middle';
      l.items.forEach((it, i) => {
        const y = a.top + l.y + i * (l.gap || 0);
        const x = a.left + l.x;
        ctx.strokeStyle = it.color;
        ctx.fillStyle = it.color;
        if (it.marker) {
          drawMark(ctx, it.marker, x, y, it.r);
        } else {
          ctx.lineWidth = l.lineWidth;
          ctx.beginPath(); ctx.moveTo(x, y); ctx.lineTo(x + l.lineLen, y); ctx.stroke();
        }
        ctx.fillStyle = '#000';
        ctx.fillText(it.text, a.left + l.textX, y);
      });
      ctx.restore();
    }
  };
}

const baseOpts = { responsive: false, animation: false, events: [], plugins: { legend: { display: false }, tooltip: { enabled: false } } };

// ---------- (a) panels ----------
function cvPanel(id, color, groups, box, leg) {
  const datasets = [];
  groups.forEach(([xs, series]) => series.forEach(ys => datasets.push({
    data: pairs(xs, ys), showLine: true, borderColor: color, borderWidth: 1,
    pointRadius: 0, pointHoverRadius: 0, cubicInterpolationMode: 'monotone'
  })));
  new Chart(document.getElementById(id), {
    type: 'scatter',
    data: { datasets },
    options: Object.assign({}, baseOpts, {
      layout: { padding: box.pad },
      scales: {
        x: axis({ min: -3.04, max: 3.04, ticks: aTickX, show: box.showX, size: 75.5, pad: 5, font: 21,
          title: box.showX ? 'Potential (V)' : null, titleSize: 27, titlePad: { top: 0, bottom: 21.5 } }),
        y: axis({ min: -2500, max: 3500, ticks: aTickY, show: box.showY, vertical: true, size: 122, pad: 7, font: 20,
          title: box.showY ? 'Current (\u03bcA)' : null, titleSize: 31, titlePad: { top: 34, bottom: 0 } })
      }
    }),
    plugins: [
      frame({ xMajor: aTickX, xMinor: aMinorX, yMajor: aTickY, yMinor: aMinorY, len: 6, color: '#444', tickWidth: 1.2, width: 1.6 }),
      legend({ font: "23px 'Liberation Serif'", x: leg.x, y: leg.y, lineLen: 43, textX: leg.x + 48, lineWidth: 1.2,
        items: [{ text: leg.text, color }] })
    ]
  });
}

cvPanel('cvTL', BLACK, [
  [gscRiseX, [gscRiseY]], [gscAnodicX, gscAnodic], [gscFlatX, [gscFlatY]], [gscSteepX, gscSteep],
  [gscLeftX, gscLeft], [gscCathodicX, gscCathodic], [gscTailX, [gscTailY]]
], { pad: { top: 13, right: 2, bottom: 2, left: 0 }, showX: false, showY: true }, { x: 12, y: 25.3, text: 'GSC' });

cvPanel('cvTR', RED, [
  [ctRiseX, [ctRiseY]], [ctAnodicX, ctAnodic], [ctFlatX, [ctFlatY]], [ctSteepX, ctSteep],
  [ctLeftX, ctLeft], [ctCathodicX, ctCathodic], [ctTailX, [ctTailY]]
], { pad: { top: 13, right: 4, bottom: 2, left: 2 }, showX: false, showY: false }, { x: 18.4, y: 27.7, text: 'GSC-CTs' });

cvPanel('cvBL', BLUE, [
  [g10RiseX, g10Rise], [g10AnodicX, g10Anodic], [g10FlatX, [g10FlatY]], [g10SteepX, g10Steep],
  [g10LeftX, g10Left], [g10FanX, [g10FanY]], [g10SlopeX, [g10SlopeY]], [g10CathodicX, g10Cathodic], [g10TailX, [g10TailY]]
], { pad: { top: 1, right: 11, bottom: 0, left: 0 }, showX: true, showY: true }, { x: 15.8, y: 27.3, text: 'GSC-10' });

cvPanel('cvBR', MAGENTA, [
  [mRiseX, [mRiseY]], [mAnodicX, mAnodic], [mFlatX, [mFlatY]], [mSteepX, mSteep],
  [mLeftX, mLeft], [mCathodicX, mCathodic], [mTailX, [mTailY]]
], { pad: { top: 1, right: 4, bottom: 0, left: 8.3 }, showX: true, showY: false }, { x: 13.4, y: 17.3, text: 'GSC-10-CTs' });

// ---------- (b) ----------
const bCurves = [
  [bGscUpX, bGscUpY, bGscDnX, bGscDnY, BLACK, 4, 'GSC'],
  [bCtUpX, bCtUpY, bCtDnX, bCtDnY, RED, 3, 'GSC-CTs'],
  [bG10UpX, bG10UpY, bG10DnX, bG10DnY, BLUE, 2, 'GSC-10'],
  [bG10CtUpX, bG10CtUpY, bG10CtDnX, bG10CtDnY, MAGENTA, 1, 'GSC-10-CTs']
];
const bSets = [];
bCurves.forEach(([ux, uy, dx, dy, color, order]) => {
  [[ux, uy], [dx, dy]].forEach(([xs, ys]) => bSets.push({
    data: pairs(xs, ys), showLine: true, borderColor: color, borderWidth: 3, order,
    pointRadius: 0, pointHoverRadius: 0, cubicInterpolationMode: 'monotone'
  }));
});
new Chart(document.getElementById('cvB'), {
  type: 'scatter',
  data: { datasets: bSets },
  options: Object.assign({}, baseOpts, {
    layout: { padding: { top: 19.3, right: 40.3, bottom: 0, left: 0 } },
    scales: {
      x: axis({ min: -1.049, max: 1.044, ticks: bTickX, show: true, size: 76.5, pad: 6, font: 20, fmt: v => v.toFixed(1),
        title: 'Potential (V)', titleSize: 29, titlePad: { top: 0, bottom: 15.5 } }),
      y: axis({ min: -60, max: 60, ticks: bTickY, show: true, vertical: true, size: 106, pad: 7, font: 20,
        title: 'Current (\u03bcA)', titleSize: 29, titlePad: { top: 38, bottom: 0 } })
    }
  }),
  plugins: [
    frame({ xMajor: bTickX, xMinor: bMinorX, yMajor: bTickY, yMinor: bMinorY, len: 7, color: '#444', tickWidth: 1.3, width: 1.8 }),
    legend({ font: "21px 'Liberation Serif'", x: 8, y: 22.4, gap: 25.5, lineLen: 35, textX: 44.5, lineWidth: 3,
      items: bCurves.map(c => ({ text: c[6], color: c[4] })) })
  ]
});

// ---------- (c) ----------
const cSeries = [
  [cGscX, cGscY, BLACK, 'rect', 0, 6, 4, 'GSC'],
  [cCtX, cCtY, RED, 'circle', 0, 5, 3, 'GSC-CTs'],
  [cG10X, cG10Y, BLUE, 'triangle', 0, 6.3, 2, 'GSC-10'],
  [cG10CtX, cG10CtY, MAGENTA, 'triangle', 180, 6.3, 1, 'GSC-10-CTs']
];
const cSets = cSeries.map(([xs, ys, color, style, rot, r, order]) => ({
  data: pairs(xs, ys), backgroundColor: color, borderWidth: 0, pointStyle: style, pointRotation: rot,
  pointRadius: r, pointHoverRadius: r, order
}));
cSets.push({ data: pairs(zoomBoxX, zoomBoxY), showLine: true, borderColor: '#d01818', borderWidth: 2, tension: 0, pointRadius: 0, order: 0 });
new Chart(document.getElementById('nyq'), {
  type: 'scatter',
  data: { datasets: cSets },
  options: Object.assign({}, baseOpts, {
    layout: { padding: { top: 36, right: 40, bottom: 0, left: 0 } },
    scales: {
      x: axis({ min: -5, max: 160, ticks: cTickX, show: true, size: 73, pad: 5.4, font: 21,
        title: "Z' (k\u03a9)", titleSize: 30, titlePad: { top: 0, bottom: 5 } }),
      y: axis({ min: -9, max: 305.5, ticks: cTickY, show: true, vertical: true, size: 106, pad: 7.7, font: 21,
        title: "-Z'' (k\u03a9)", titleSize: 28, titlePad: { top: 34, bottom: 0 } })
    }
  }),
  plugins: [
    frame({ xMajor: cTickX, xMinor: cMinorX, yMajor: cTickY, yMinor: cMinorY, len: 7, color: '#444', tickWidth: 1.3, width: 1.8 }),
    legend({ font: "22px 'Liberation Serif'", x: 25.7, y: 20, gap: 26.3, textX: 44,
      items: cSeries.map(s => ({ text: s[7], color: s[2], marker: s[4] ? 'down' : (s[3] === 'triangle' ? 'up' : s[3]), r: s[5] })) })
  ]
});

// inset
const insSeries = [
  [insGscX, insGscY, BLACK, 'rect', 0, 2.6, 4],
  [insCtX, insCtY, RED, 'circle', 0, 1.9, 3],
  [insG10X, insG10Y, BLUE, 'triangle', 0, 2.4, 2],
  [insG10CtX, insG10CtY, MAGENTA, 'triangle', 180, 2.4, 1]
];
new Chart(document.getElementById('nyqInset'), {
  type: 'scatter',
  data: {
    datasets: insSeries.map(([xs, ys, color, style, rot, r, order]) => ({
      data: pairs(xs, ys), showLine: true, tension: 0, borderColor: color, borderWidth: 1,
      backgroundColor: color, pointBorderWidth: 0, pointStyle: style, pointRotation: rot,
      pointRadius: r, pointHoverRadius: r, order
    }))
  },
  options: Object.assign({}, baseOpts, {
    layout: { padding: { top: 15.7, right: 14, bottom: 0, left: 0 } },
    scales: {
      x: axis({ min: 0.05, max: 0.25, ticks: iTickX, show: true, size: 36.7, pad: 2.4, font: 10, fmt: v => v.toFixed(2),
        title: "Z' (k\u03a9)", titleSize: 11, titlePad: { top: 0, bottom: 9.5 } }),
      y: axis({ min: 0, max: 0.15, ticks: iTickY, show: true, vertical: true, size: 52.7, pad: 2.7, font: 10, fmt: v => v.toFixed(2),
        title: "-Z'' (k\u03a9)", titleSize: 11, titlePad: { top: 16, bottom: 0 } })
    }
  }),
  plugins: [
    frame({ fill: true, xMajor: iTickX, xMinor: iMinorX, yMajor: iTickY, yMinor: iMinorY, len: 3.5, color: '#777', tickWidth: 1, width: 1.2 })
  ]
});
</script>
</body>
</html>
